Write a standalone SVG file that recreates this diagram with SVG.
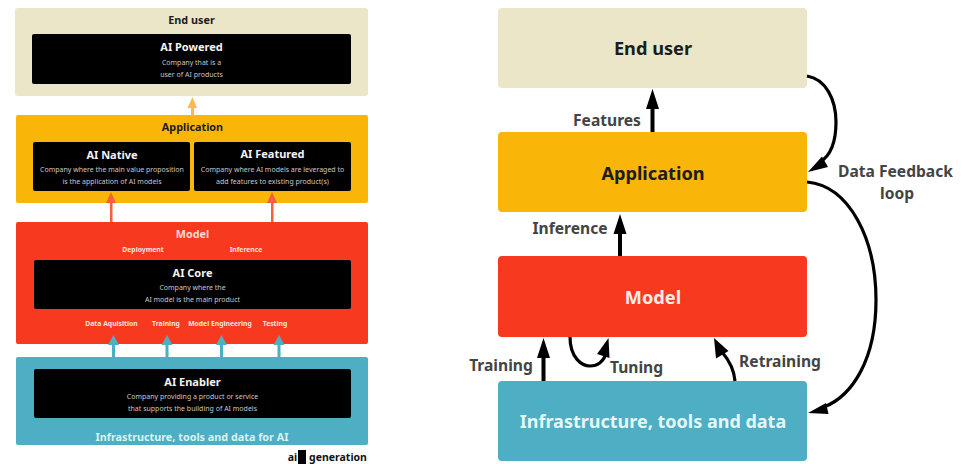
<svg xmlns="http://www.w3.org/2000/svg" width="975" height="464" viewBox="0 0 975 464">
<style>
text{font-family:"Noto Sans","Liberation Sans",sans-serif;text-anchor:middle;font-weight:700}
.dark{fill:#1c1c1c}.lab{fill:#444;font-size:15.600px}
.t{font-size:10.800px}.h{font-size:11px;fill:#f4f4f4}.d{font-size:7px;fill:#c9c9c9;font-weight:400}.s{font-size:6.800px;fill:#fde3dc}
.big{font-size:18.200px}
.k{fill:#000}.bl{fill:none;stroke:#000;stroke-width:3.200}
</style>
<rect width="975" height="464" fill="#fff"/>
<g id="left-end-user"><rect x="15" y="8" width="353" height="88" rx="3" fill="#ebe6c8"/><text x="191.500" y="24" class="t dark">End user</text></g>
<g id="ai-powered"><rect x="32" y="34" width="319" height="50" rx="2" fill="#000"/><text x="191.500" y="51" class="h">AI Powered</text><text x="191.500" y="65" class="d">Company that is a</text><text x="191.500" y="77" class="d">user of AI products</text></g>
<g id="left-application"><rect x="16" y="115" width="352" height="88" rx="2" fill="#f9b508"/><text x="192.500" y="131" class="t dark">Application</text></g>
<g id="ai-native"><rect x="33" y="142" width="157" height="49" rx="2" fill="#000"/><text x="112" y="159" class="h">AI Native</text><text x="112" y="172" class="d">Company where the main value proposition</text><text x="112" y="184" class="d">is the application of AI models</text></g>
<g id="ai-featured"><rect x="194" y="142" width="157" height="49" rx="2" fill="#000"/><text x="272.500" y="158" class="h">AI Featured</text><text x="272.500" y="172" class="d">Company where AI models are leveraged to</text><text x="272.500" y="184" class="d">add features to existing product(s)</text></g>
<g id="left-model"><rect x="16" y="222" width="352" height="122" rx="2" fill="#f73a1f"/><text x="192.500" y="238" class="t" fill="#f9dcd5">Model</text><text x="143" y="252" class="s">Deployment</text><text x="246" y="252" class="s">Inference</text><text x="111.500" y="326" class="s">Data Aquisition</text><text x="166" y="326" class="s">Training</text><text x="220" y="326" class="s">Model Engineering</text><text x="275" y="326" class="s">Testing</text></g>
<g id="ai-core"><rect x="34" y="260" width="317" height="49" rx="2" fill="#000"/><text x="192.500" y="277" class="h">AI Core</text><text x="192.500" y="290" class="d">Company where the</text><text x="192.500" y="302" class="d">AI model is the main product</text></g>
<g id="left-infrastructure"><rect x="16" y="357" width="352" height="88" rx="2" fill="#4daec4"/><text x="192" y="441" font-size="10.800" fill="#d9f2f5">Infrastructure, tools and data for AI</text></g>
<g id="ai-enabler"><rect x="34" y="369" width="317" height="49" rx="2" fill="#000"/><text x="192.500" y="386" class="h">AI Enabler</text><text x="192.500" y="399" class="d">Company providing a product or service</text><text x="192.500" y="411" class="d">that supports the building of AI models</text></g>
<g id="logo"><text x="292.500" y="461" font-size="10.500" fill="#111">ai</text><rect x="298" y="450" width="8" height="14" fill="#000"/><text x="338" y="461" font-size="10.500" fill="#111">generation</text></g>
<g id="end-user"><rect x="498" y="8" width="309" height="80" rx="4" fill="#ebe6c8"/><text x="653" y="55" class="big dark">End user</text></g>
<g id="application"><rect x="498" y="132" width="309" height="80" rx="4" fill="#f9b508"/><text x="653" y="180" class="big dark">Application</text></g>
<g id="model"><rect x="498" y="256" width="309" height="81" rx="4" fill="#f73a1f"/><text x="653" y="304" class="big" fill="#fdebe6">Model</text></g>
<g id="infrastructure"><rect x="498" y="381" width="309" height="80" rx="4" fill="#4daec4"/><text x="653" y="428" font-size="18" fill="#e6f7f8">Infrastructure, tools and data</text></g>
<g id="connectors">
<path fill="#fdb94a" d="M191 115V108H187.500L192.500 97L197 108H194V115Z"/>
<g fill="#f85f3c"><path d="M110 222V203h-4L111 192L116 203H112.500V222Z"/><path d="M271 222V203h-4L272 192L277 203H273.500V222Z"/></g>
<g fill="#4daec4"><path d="M112 357V345h-4L113.500 335L119 345H115V357Z"/><path d="M165.500 357V345h-4L167 335L172.500 345H168.500V357Z"/><path d="M220 357V345h-4L221.500 335L227 345H223V357Z"/><path d="M277.500 357V345h-4L279 335L284.500 345H280.500V357Z"/></g>
<g class="k">
<path d="M650.500 132V109H646L652.500 89L659 109H654.500V132Z"/>
<path d="M618 256V234H613.500L620 214L626.500 234H622V256Z"/>
<path d="M541.500 381V358H537L543.500 338L550 358H545.500V381Z"/>
</g>
<path class="bl" d="M570 337C570 358 582 366 590 366C598 366 603 362 606 354"/>
<path class="k" d="M608.500 338L609.500 358L597 354Z"/>
<path class="bl" d="M735 381C734 369 728 359 722 352"/>
<path class="k" d="M714 338L728.500 351L716 358.500Z"/>
<path class="bl" d="M807 76C826 79 836 100 836 122C836 142 830 156 820 162"/>
<path class="k" d="M808 172L822 156.500L828 167Z"/>
<path class="bl" d="M807 182C850 186 876 240 876 300C876 360 852 396 824 407"/>
<path class="k" d="M808 413L826 403L828.500 414Z"/>
</g>
<g id="labels">
<text x="607" y="126" class="lab">Features</text>
<text x="570" y="234" class="lab">Inference</text>
<text x="501" y="371" class="lab">Training</text>
<text x="636.500" y="373" class="lab">Tuning</text>
<text x="780" y="367" class="lab">Retraining</text>
<text x="895.500" y="177" class="lab">Data Feedback</text>
<text x="897" y="199" class="lab">loop</text>
</g>
</svg>
